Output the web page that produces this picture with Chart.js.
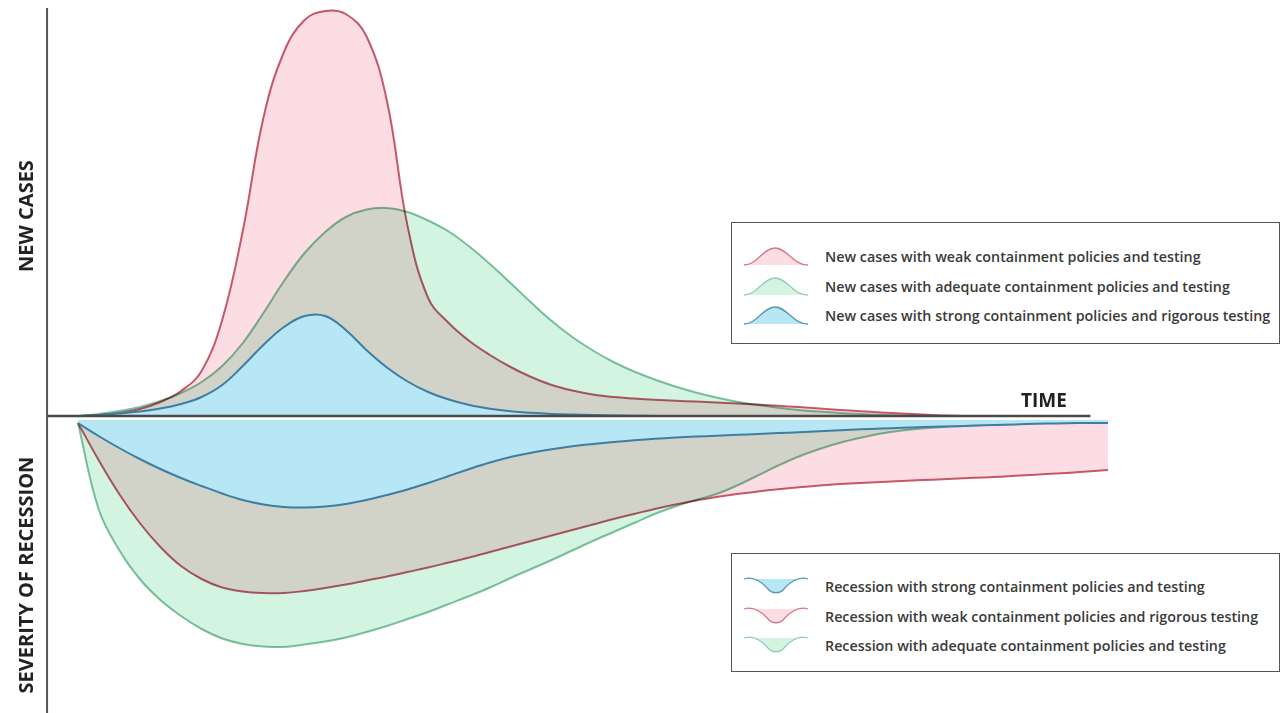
<!DOCTYPE html>
<html>
<head>
<meta charset="utf-8">
<script src="https://cdn.jsdelivr.net/npm/chart.js@4.4.1/dist/chart.umd.min.js"></script>
<style>
  body { margin: 0; background: #fff; font-family: "Open Sans", sans-serif; }
  #wrap { position: relative; width: 1282px; height: 713px; overflow: hidden; }
  #myChart { position: absolute; left: 0; top: 0; }
  .ytitle { position: absolute; font-weight: 700; font-size: 20px; color: #222; white-space: nowrap;
            transform: translate(-50%, -50%) rotate(-90deg); }
  .time { position: absolute; left: 1021px; top: 387px; font-weight: 700; font-size: 19px; color: #222; }
  .box { position: absolute; left: 731px; width: 549px; border: 1.5px solid #555; background: #fff; box-sizing: border-box; }
  .row { position: absolute; left: 11px; height: 24px; display: flex; align-items: center; }
  .row svg { width: 66px; height: 22px; margin-right: 16px; }
  .row span { font-size: 14.3px; font-weight: 600; color: #3a3a3a; white-space: nowrap; }
</style>
</head>
<body>
<div id="wrap">
  <canvas id="myChart" width="1282" height="713"></canvas>
  <div class="ytitle" style="left:25px; top:216px;">NEW CASES</div>
  <div class="ytitle" style="left:25px; top:575px;">SEVERITY OF RECESSION</div>
  <div class="time">TIME</div>
  <div class="box" id="legendTop" style="top:222px; height:122px;"></div>
  <div class="box" id="legendBottom" style="top:553px; height:119px;"></div>
</div>
<script>
// time steps along the x axis
const time = [0, 2, 4, 6, 8, 10, 12, 14, 16, 18, 20, 22, 24, 26, 28, 30, 32, 34, 36, 38, 40,
  42, 44, 46, 48, 50, 52, 54, 56, 58, 60, 62, 64, 66, 68, 70, 72, 74, 76, 78, 80,
  82, 84, 86, 88, 90, 92, 94, 96, 98, 100]

// new cases (upper half)
const casesWeak = [0, 1, 3, 7, 14, 25, 45, 96, 185, 298, 364, 396, 405, 402, 380, 315, 190, 118, 93, 75, 61,
  49, 39, 31, 25.5, 21.5, 19, 17.5, 16.3, 15.3, 14.4, 13.5, 12.5, 11.4, 10.2, 8.9, 7.5, 6.1, 4.8, 3.6, 2.5,
  1.5, 0.6, 0, 0, 0, 0]
const casesAdequate = [0, 2, 5, 9, 15, 23, 34, 50, 73, 103, 135, 163, 184, 199, 206.5, 208, 204, 195.5, 184.5, 169.5, 152,
  133, 113.5, 95, 79, 65.5, 54, 44.5, 36.5, 29.5, 23.5, 18.5, 14.3, 11, 8.3, 6.1, 4.4, 3, 2, 1.2, 0.6,
  0.2, 0, 0, 0, 0, 0]
const casesStrong = [0, 1, 2.5, 4.5, 7.5, 12, 19, 31, 50, 71, 89, 100, 100, 86, 66, 48.5, 34.5, 24, 16.5, 11, 7.3,
  4.8, 3.2, 2.1, 1.4, 0.9, 0.5, 0.3, 0.1, 0, 0, 0, 0, 0, 0, 0, 0, 0, 0, 0, 0,
  0, 0, 0, 0, 0, 0]

// severity of recession (lower half, negative)
const recStrong = [-7, -20, -32, -43, -53, -62, -70, -77.5, -84, -88.5, -91, -91.5, -90.5, -88, -84, -79, -73.5, -67, -60, -53, -46.5,
  -41, -36.7, -33.2, -30.3, -28, -26, -24.2, -22.8, -21.6, -20.6, -19.7, -18.8, -18, -17.1, -16.2, -15.2, -14.2, -13.3, -12.5, -11.8,
  -11.1, -10.5, -9.9, -9.3, -8.7, -8.1, -7.6, -7.2, -7, -7]
const recWeak = [-7, -44, -78, -107, -131, -150, -163, -171.5, -175.5, -177, -177, -175, -172, -168.5, -164.5, -160.5, -156, -151.5, -146.5, -141.5, -136,
  -130.5, -125, -119.5, -114, -108.5, -103, -98, -93, -88.5, -84.5, -81, -78, -75.5, -73.3, -71.3, -69.6, -68.1, -66.9, -65.9, -65,
  -64.1, -63.2, -62.3, -61.4, -60.4, -59.3, -58.1, -56.9, -55.5, -54]
const recAdequate = [-7, -93, -134, -163, -184, -200, -213, -222.5, -228, -230.5, -231, -228.5, -225.5, -221.5, -216, -210, -203, -196, -188, -180, -171.5,
  -162, -153, -144, -134.5, -125, -116, -107, -98, -90.5, -84, -78, -69.5, -59.5, -49.5, -40.5, -33, -26.8, -21.8, -17.6, -14.6,
  -12.5, -11, -10, -9, -8.3, -7.6, -7, -6.7, -6.7, -6.7]

const pts = arr => arr.map((v, i) => ({ x: time[i], y: v }))

const pinkFill = '#fcdde3', pinkLine = '#c65e6d'
const greenFill = '#d4f4e2', greenLine = '#84c2a2'
const blueFill = '#b7e6f5', blueLine = '#3d7ea2'

const line = (data, fillColor, lineColor, fillTarget) => ({
  data: pts(data),
  backgroundColor: fillColor,
  borderColor: lineColor,
  borderWidth: 2,
  pointRadius: 0,
  tension: 0.4,
  fill: fillTarget
})

// red and green overlap like print inks, blue sits on top
const blendPlugin = {
  id: 'blend',
  beforeDatasetsDraw(chart) {
    chart.ctx.globalCompositeOperation = 'multiply'
  },
  afterDatasetDraw(chart, args) {
    if (args.index === 2) chart.ctx.globalCompositeOperation = 'source-over'
  },
  afterDatasetsDraw(chart) {
    const ctx = chart.ctx
    const x = chart.scales.x, y = chart.scales.y
    ctx.save()
    ctx.globalCompositeOperation = 'source-over'
    ctx.strokeStyle = '#555'
    ctx.lineWidth = 2
    ctx.beginPath()
    ctx.moveTo(x.getPixelForValue(-3), y.getPixelForValue(408))
    ctx.lineTo(x.getPixelForValue(-3), y.getPixelForValue(-297))
    ctx.stroke()
    ctx.strokeStyle = '#4a4a4a'
    ctx.lineWidth = 2.5
    ctx.beginPath()
    ctx.moveTo(x.getPixelForValue(-3), y.getPixelForValue(0))
    ctx.lineTo(x.getPixelForValue(98.3), y.getPixelForValue(0))
    ctx.stroke()
    ctx.restore()
  }
}

let ctx = document.querySelector('#myChart').getContext('2d')
let myChart = new Chart(ctx, {
  type: 'line',
  data: {
    datasets: [
      line(casesStrong, blueFill, blueLine, 'origin'),
      line(recStrong, blueFill, blueLine, { value: -4 }),
      line(casesWeak, pinkFill, pinkLine, 'origin'),
      line(casesAdequate, greenFill, greenLine, 'origin'),
      line(recWeak, pinkFill, pinkLine, { value: -4 }),
      line(recAdequate, greenFill, greenLine, { value: -4 })
    ]
  },
  options: {
    responsive: false,
    animation: false,
    events: [],
    layout: { padding: 0, autoPadding: false },
    plugins: { legend: { display: false }, tooltip: { enabled: false } },
    scales: {
      x: { type: 'linear', min: -7.57, max: 116.9, display: false },
      y: { min: -297, max: 416, display: false }
    }
  },
  plugins: [blendPlugin]
})

// legend boxes
const topItems = [
  ['New cases with weak containment policies and testing', pinkFill, pinkLine],
  ['New cases with adequate containment policies and testing', greenFill, greenLine],
  ['New cases with strong containment policies and rigorous testing', blueFill, blueLine]
]
const bottomItems = [
  ['Recession with strong containment policies and testing', blueFill, blueLine],
  ['Recession with weak containment policies and rigorous testing', pinkFill, pinkLine],
  ['Recession with adequate containment policies and testing', greenFill, greenLine]
]
const bell = 'M1,20 C14,20 20,3 32,3 C44,3 50,20 65,20'
const valley = 'M1,4 C10,1 18,6 25,14 C29,19 37,19 41,14 C48,6 56,1 65,4'
const fillLegend = (id, items, path, rowsTop) => {
  const box = document.getElementById(id)
  items.forEach((it, i) => {
    const row = document.createElement('div')
    row.className = 'row'
    row.style.top = rowsTop[i] + 'px'
    row.innerHTML = '<svg viewBox="0 0 66 22"><path d="' + path + 'Z" fill="' + it[1] + '" stroke="none"/>' +
      '<path d="' + path + '" fill="none" stroke="' + it[2] + '" stroke-width="1.3" opacity="0.8"/></svg><span>' + it[0] + '</span>'
    box.appendChild(row)
  })
}
fillLegend('legendTop', topItems, bell, [21, 51, 80])
fillLegend('legendBottom', bottomItems, valley, [20, 50, 79])
</script>
</body>
</html>
